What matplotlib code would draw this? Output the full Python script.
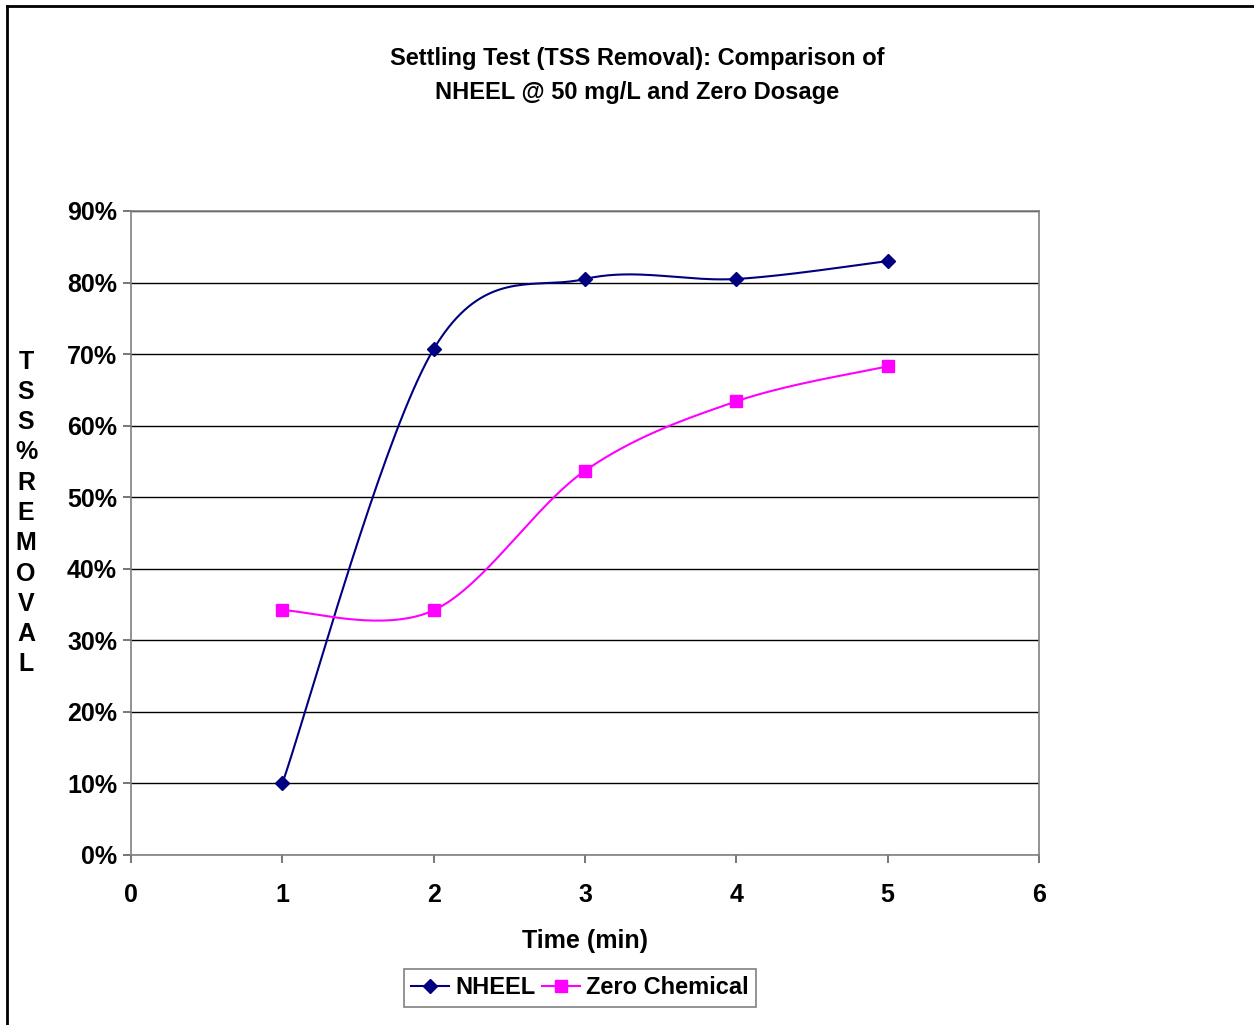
import matplotlib
matplotlib.use("Agg")
import matplotlib.pyplot as plt
from matplotlib.lines import Line2D
from matplotlib.ticker import FuncFormatter
import numpy as np

plt.rcParams['font.family'] = ['Liberation Sans', 'DejaVu Sans']
plt.rcParams['font.weight'] = 'bold'

time_min = [1, 2, 3, 4, 5]
nheel = [0.10, 0.707, 0.805, 0.805, 0.83]
zero_chem = [0.342, 0.342, 0.537, 0.634, 0.683]

title_lines = ["Settling Test (TSS Removal): Comparison of",
               "NHEEL @ 50 mg/L and Zero Dosage"]
ylabel_text = "TSS%REMOVAL"
xlabel_text = "Time (min)"
labels = ["NHEEL", "Zero Chemical"]


def smooth(xs, ys, n=40):
    # excel style smoothed line (catmull-rom through bezier segments)
    p = np.column_stack([xs, ys]).astype(float)
    pts = []
    for i in range(len(p) - 1):
        p0 = p[i - 1] if i > 0 else p[i]
        p1, p2 = p[i], p[i + 1]
        p3 = p[i + 2] if i + 2 < len(p) else p[i + 1]
        c1 = p1 + (p2 - p0) / 6
        c2 = p2 - (p3 - p1) / 6
        t = np.linspace(0, 1, n)[:, None]
        seg = ((1 - t) ** 3) * p1 + 3 * ((1 - t) ** 2) * t * c1 + 3 * (1 - t) * t ** 2 * c2 + t ** 3 * p2
        pts.append(seg if i == 0 else seg[1:])
    pts = np.vstack(pts)
    return pts[:, 0], pts[:, 1]


fig = plt.figure(figsize=(12.54, 10.25), dpi=100)
ax = fig.add_axes([131 / 1254, 170 / 1025, 908 / 1254, 644 / 1025])

# frame around the chart (only top and left edges show)
fig.add_artist(Line2D([7 / 1254, 7 / 1254], [0, 1 - 6 / 1025], transform=fig.transFigure, color='black', lw=2))
fig.add_artist(Line2D([7 / 1254, 1], [1 - 6 / 1025, 1 - 6 / 1025], transform=fig.transFigure, color='black', lw=2))

navy = '#000080'
magenta = '#FF00FF'

sx, sy = smooth(time_min, nheel)
ax.plot(sx, sy, color=navy, lw=1.5, zorder=3)
ax.plot(time_min, nheel, ls='none', marker='D', ms=7, color=navy, zorder=4)
sx, sy = smooth(time_min, zero_chem)
ax.plot(sx, sy, color=magenta, lw=1.5, zorder=3)
ax.plot(time_min, zero_chem, ls='none', marker='s', ms=8, color=magenta, zorder=4)

ax.set_xlim(0, 6)
ax.set_ylim(0, 0.9)
ax.set_xticks(range(0, 7))
ax.set_yticks(np.arange(0, 0.91, 0.1))
ax.yaxis.set_major_formatter(FuncFormatter(lambda v, p: f"{v * 100:.0f}%"))
ax.grid(axis='y', color='black', lw=1)
ax.set_axisbelow(True)
for s in ax.spines.values():
    s.set_color('#808080')
    s.set_linewidth(1.2)
ax.tick_params(direction='out', length=6, width=1.2, color='#606060', labelsize=18, pad=4)
ax.tick_params(axis='x', pad=14)
for lab in ax.get_xticklabels() + ax.get_yticklabels():
    lab.set_fontweight('bold')

ax.set_xlabel(xlabel_text, fontsize=18, fontweight='bold', labelpad=16)

fig.text(26 / 1254, 1 - 513 / 1025, "\n".join(ylabel_text), fontsize=18, fontweight='bold',
         ha='center', va='center', linespacing=1.33)

fig.text(637 / 1254, 1 - 59 / 1025, title_lines[0], fontsize=17, fontweight='bold', ha='center', va='center')
fig.text(637 / 1254, 1 - 92 / 1025, title_lines[1], fontsize=17, fontweight='bold', ha='center', va='center')

handles = [Line2D([], [], color=navy, marker='D', ms=7, lw=1.5),
           Line2D([], [], color=magenta, marker='s', ms=8, lw=1.5)]
leg = fig.legend(handles, labels, loc='center', bbox_to_anchor=(580 / 1254, 1 - 988 / 1025), ncol=2,
                 fontsize=17, frameon=True, fancybox=False, edgecolor='#606060', handlelength=1.6,
                 handletextpad=0.25, columnspacing=0.3, borderpad=0.3, borderaxespad=0)
leg.get_frame().set_linewidth(1.2)
for t in leg.get_texts():
    t.set_fontweight('bold')

fig.savefig("out.png", dpi=100)
